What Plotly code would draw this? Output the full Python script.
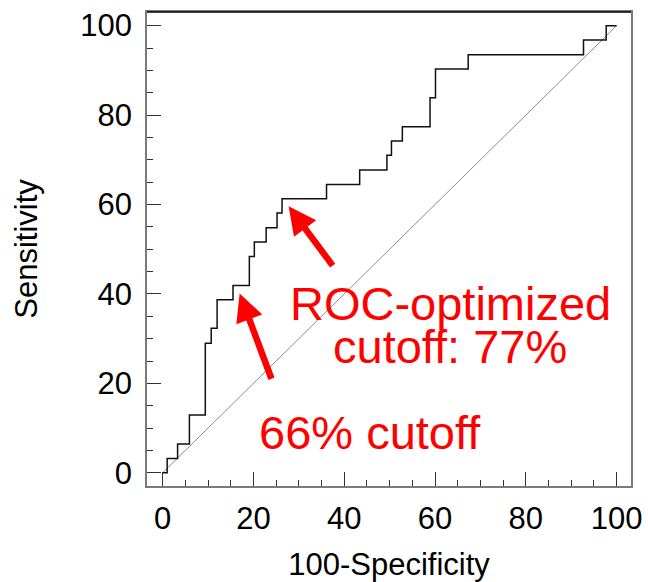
import plotly.graph_objects as go

# ROC curve step vertices (100-Specificity, Sensitivity)
fpr = [0, 1.0, 3.3, 5.9, 9.4, 10.7, 12.0, 15.5, 19.1, 20.2, 22.8, 25.2, 26.3,
       36.1, 43.4, 49.4, 50.4, 52.8, 58.9, 60.1, 67.3, 92.7, 97.7, 100]
tpr = [0, 3.2, 6.45, 12.9, 29.0, 32.3, 38.7, 41.9, 48.4, 51.6, 54.8, 58.1, 61.3,
       64.5, 67.7, 71.0, 74.2, 77.4, 83.9, 90.3, 93.5, 96.8, 100, 100]
diag_x = [0, 100]
diag_y = [0, 100]
tick_vals = [0, 20, 40, 60, 80, 100]

FONT = "Liberation Sans, Arial, sans-serif"

fig = go.Figure()
fig.add_trace(go.Scatter(x=diag_x, y=diag_y, mode="lines",
                         line=dict(color="#8c8c8c", width=1), hoverinfo="skip"))
fig.add_trace(go.Scatter(x=fpr, y=tpr, mode="lines", line_shape="hv",
                         line=dict(color="#111111", width=1.5)))

axis_common = dict(
    showgrid=False, zeroline=False, showline=True, linecolor="#7a7a7a", linewidth=1.5,
    mirror=True, ticks="inside", ticklen=14, tickwidth=1.2, tickcolor="#333",
    tickvals=tick_vals, tickfont=dict(family=FONT, size=31, color="black"),
    minor=dict(ticks="inside", dtick=5, ticklen=6, tickwidth=1, tickcolor="#333"),
    automargin=False,
)

fig.update_layout(
    width=648, height=582,
    margin=dict(l=147, r=17, t=12, b=96),
    paper_bgcolor="white", plot_bgcolor="white",
    showlegend=False,
    xaxis=dict(range=[-3.44, 103.16], ticklabelstandoff=4,
               title=dict(text="100-Specificity", font=dict(family=FONT, size=31, color="black"),
                          standoff=23),
               **axis_common),
    yaxis=dict(range=[-2.95, 103.05], ticklabelstandoff=7,
               title=dict(text="Sensitivity", font=dict(family=FONT, size=31, color="black"),
                          standoff=33),
               **axis_common),
)

# black top border
fig.add_shape(type="line", xref="paper", yref="paper", x0=0, x1=1, y0=1, y1=1,
              line=dict(color="black", width=1.5))

red = "#ff0000"
fig.add_annotation(x=63.4, y=37.8, text="ROC-optimized", showarrow=False,
                   font=dict(family=FONT, size=47, color=red), xanchor="center", yanchor="middle")
fig.add_annotation(x=63.4, y=28.2, text="cutoff: 77%", showarrow=False,
                   font=dict(family=FONT, size=47, color=red), xanchor="center", yanchor="middle")
fig.add_annotation(x=45.6, y=9.1, text="66% cutoff", showarrow=False,
                   font=dict(family=FONT, size=47, color=red), xanchor="center", yanchor="middle")

# arrows
for (tx, ty, sx, sy) in [(27.75, 59.6, 37.7, 46.0), (16.96, 40.1, 24.1, 20.7)]:
    fig.add_annotation(x=tx, y=ty, ax=sx, ay=sy, axref="x", ayref="y", xref="x", yref="y",
                       text="", showarrow=True, arrowhead=2, arrowsize=0.85,
                       arrowwidth=6.5, arrowcolor=red, standoff=0)

fig.write_html("out.html")
